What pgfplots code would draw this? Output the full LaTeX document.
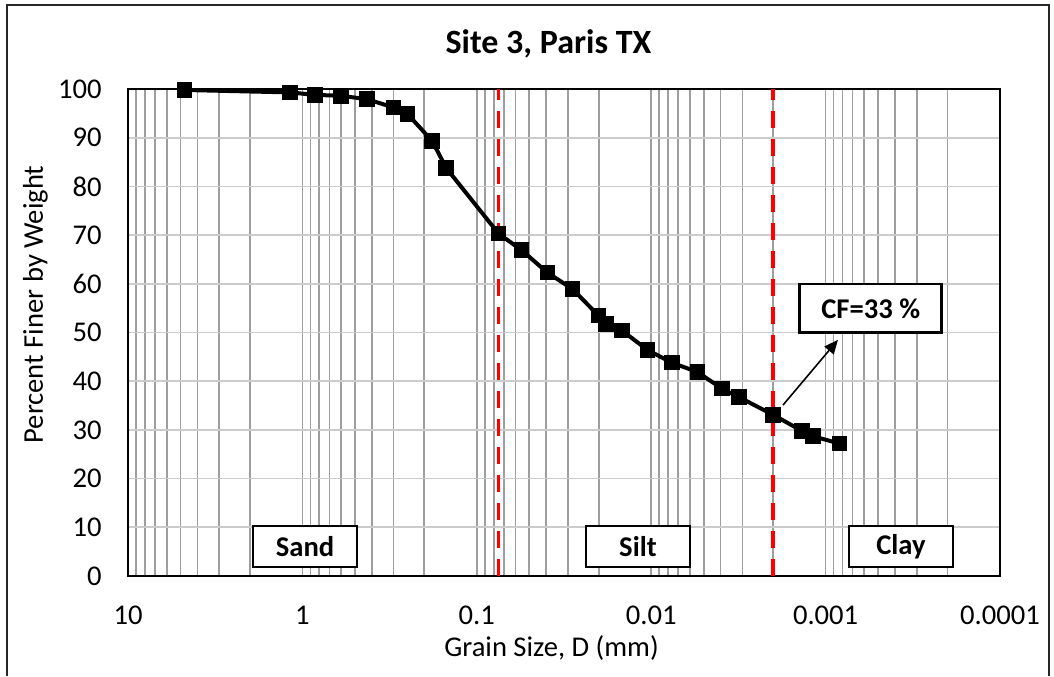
\documentclass[border=0pt]{standalone}
\usepackage{fontspec}
\setmainfont{Carlito}
\usepackage{pgfplots}
\pgfplotsset{compat=1.18}
\usetikzlibrary{arrows.meta}

\pgfplotstableread{
D      P
4.75   99.8
1.18   99.3
0.85   98.8
0.60   98.6
0.425  97.9
0.30   96.2
0.25   94.9
0.18   89.3
0.15   83.8
0.075  70.3
0.0553 66.9
0.0394 62.3
0.0282 58.9
0.0201 53.5
0.0182 51.7
0.0147 50.4
0.0105 46.4
0.00762 43.8
0.00544 41.9
0.00394 38.5
0.00313 36.7
0.00200 33.1
0.00137 29.8
0.00118 28.7
0.000834 27.2
}\gsd

\begin{document}
\begin{tikzpicture}
\useasboundingbox (0,0) rectangle (527pt,338pt);
\draw[line width=1pt, black!85] (3.5pt,0) -- (3.5pt,335.5pt) -- (524.5pt,335.5pt) -- (524.5pt,0);
\begin{axis}[
  at={(64pt,50pt)}, anchor=south west,
  scale only axis, width=436pt, height=243.5pt,
  xmode=log, x dir=reverse,
  xmin=0.0001, xmax=10, ymin=0, ymax=100,
  xtick={0.0001,0.001,0.01,0.1,1,10},
  xticklabels={0.0001,0.001,0.01,0.1,1,10},
  minor xtick={0.0002,0.0003,0.0004,0.0005,0.0006,0.0007,0.0008,0.0009,
               0.002,0.003,0.004,0.005,0.006,0.007,0.008,0.009,
               0.02,0.03,0.04,0.05,0.06,0.07,0.08,0.09,
               0.2,0.3,0.4,0.5,0.6,0.7,0.8,0.9,
               2,3,4,5,6,7,8,9},
  ytick={0,10,...,100},
  major tick length=0pt, minor tick length=0pt,
  xmajorgrids, xminorgrids, ymajorgrids,
  major x grid style={black!38, line width=0.85pt},
  minor x grid style={black!38, line width=0.85pt},
  major y grid style={black!20, line width=0.85pt},
  axis line style={line width=1.1pt},
  /pgf/number format/assume math mode=true,
  tick label style={font=\fontsize{14.3}{16}\selectfont, inner sep=0pt},
  xticklabel style={anchor=base, yshift=-24pt},
  yticklabel style={anchor=east, xshift=-13pt},
  label style={font=\fontsize{14.3}{16}\selectfont},
  xlabel={Grain Size, D (mm)},
  ylabel={Percent Finer by Weight},
  xlabel style={at={(axis description cs:0.4857,-0.1663)}, anchor=base},
  ylabel style={at={(axis description cs:-0.0975,0.5575)}, anchor=base},
  title={Site 3, Paris TX},
  title style={at={(axis description cs:0.4822,1.0473)}, anchor=base, font=\bfseries\fontsize{17}{20}\selectfont},
  clip=false,
]
\addplot[red, line width=1.8pt, dash pattern=on 8.5pt off 5.5pt] coordinates {(0.075,0) (0.075,100)};
\addplot[red, line width=1.8pt, dash pattern=on 8.5pt off 5.5pt] coordinates {(0.002,0) (0.002,100)};
\addplot[black, line width=2pt, mark=square*, mark size=2.9pt] table[x=D, y=P] {\gsd};

\node[draw, line width=1.35pt, fill=white, minimum width=52pt, minimum height=20.5pt, inner sep=0pt, font=\bfseries\fontsize{14.3}{16}\selectfont] at (axis cs:0.966,6.06) {Sand};
\node[draw, line width=1.35pt, fill=white, minimum width=52pt, minimum height=20.5pt, inner sep=0pt, font=\bfseries\fontsize{14.3}{16}\selectfont] at (axis cs:0.01191,6.06) {Silt};
\node[draw, line width=1.35pt, fill=white, minimum width=52pt, minimum height=20.5pt, inner sep=0pt, font=\bfseries\fontsize{14.3}{16}\selectfont] at (axis cs:0.000370,6.06) {Clay};
\node[draw, line width=1.35pt, fill=white, minimum width=71pt, minimum height=24.3pt, inner sep=0pt, font=\bfseries\fontsize{14.3}{16}\selectfont] at (axis cs:0.000551,54.97) {CF=33 \%};
\draw[line width=0.8pt, -{Triangle[length=7pt,width=6pt]}] (axis cs:0.001755,35.1) -- (axis cs:0.000849,48.5);
\end{axis}
\end{tikzpicture}
\end{document}
